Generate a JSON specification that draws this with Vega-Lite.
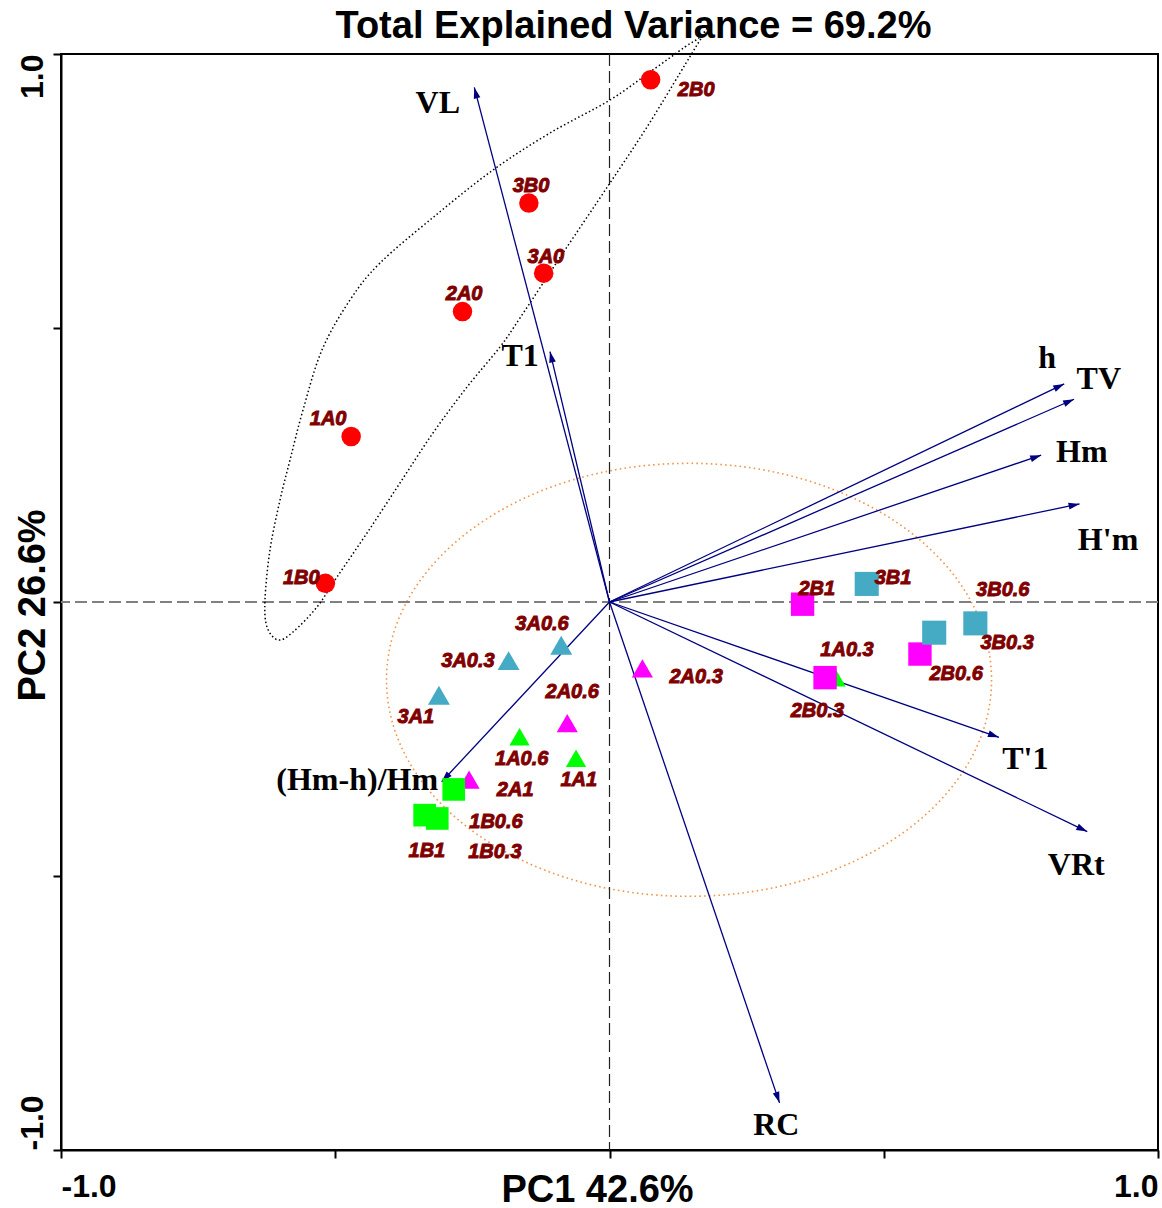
{
  "$schema": "https://vega.github.io/schema/vega-lite/v6.json",
  "width": 1097,
  "height": 1096,
  "autosize": {"type": "none"},
  "padding": {"left": 61, "top": 54, "right": 4, "bottom": 58},
  "background": "white",
  "config": {
    "view": {"stroke": "black", "strokeWidth": 2},
    "axis": {"grid": false}
  },
  "title": {
    "text": "Total Explained Variance = 69.2%",
    "font": "Liberation Sans",
    "fontSize": 38,
    "fontWeight": "bold",
    "color": "black",
    "anchor": "middle",
    "frame": "group",
    "dx": 24,
    "dy": 71,
    "offset": 16,
    "baseline": "alphabetic"
  },
  "datasets": {
    "scores": [
      {"id": "2B0", "g": "0", "x": 0.075, "y": 0.953, "lx": 0.158, "ly": 0.934},
      {"id": "3B0", "g": "0", "x": -0.147, "y": 0.728, "lx": -0.143, "ly": 0.759},
      {"id": "3A0", "g": "0", "x": -0.120, "y": 0.600, "lx": -0.116, "ly": 0.630},
      {"id": "2A0", "g": "0", "x": -0.268, "y": 0.530, "lx": -0.265, "ly": 0.562},
      {"id": "1A0", "g": "0", "x": -0.471, "y": 0.302, "lx": -0.513, "ly": 0.334},
      {"id": "1B0", "g": "0", "x": -0.518, "y": 0.034, "lx": -0.562, "ly": 0.044},
      {"id": "1A0.6", "g": "1A", "x": -0.164, "y": -0.246, "lx": -0.160, "ly": -0.287},
      {"id": "1A1", "g": "1A", "x": -0.061, "y": -0.285, "lx": -0.056, "ly": -0.325},
      {"id": "1A0.3", "g": "1A", "x": 0.412, "y": -0.138, "lx": 0.433, "ly": -0.088},
      {"id": "2A0.6", "g": "2A", "x": -0.077, "y": -0.221, "lx": -0.068, "ly": -0.164},
      {"id": "2A1", "g": "2A", "x": -0.256, "y": -0.324, "lx": -0.172, "ly": -0.343},
      {"id": "2A0.3", "g": "2A", "x": 0.060, "y": -0.121, "lx": 0.158, "ly": -0.137},
      {"id": "3A0.6", "g": "3A", "x": -0.088, "y": -0.079, "lx": -0.123, "ly": -0.040},
      {"id": "3A0.3", "g": "3A", "x": -0.184, "y": -0.107, "lx": -0.258, "ly": -0.108},
      {"id": "3A1", "g": "3A", "x": -0.311, "y": -0.170, "lx": -0.353, "ly": -0.210},
      {"id": "1B0.6", "g": "1B", "x": -0.284, "y": -0.342, "lx": -0.207, "ly": -0.402},
      {"id": "1B1", "g": "1B", "x": -0.337, "y": -0.389, "lx": -0.333, "ly": -0.454},
      {"id": "1B0.3", "g": "1B", "x": -0.314, "y": -0.395, "lx": -0.209, "ly": -0.456},
      {"id": "2B1", "g": "2B", "x": 0.352, "y": -0.004, "lx": 0.378, "ly": 0.024},
      {"id": "2B0.3", "g": "2B", "x": 0.393, "y": -0.138, "lx": 0.379, "ly": -0.199},
      {"id": "2B0.6", "g": "2B", "x": 0.566, "y": -0.095, "lx": 0.632, "ly": -0.131},
      {"id": "3B1", "g": "3B", "x": 0.469, "y": 0.033, "lx": 0.517, "ly": 0.044},
      {"id": "3B0.6", "g": "3B", "x": 0.592, "y": -0.056, "lx": 0.717, "ly": 0.022},
      {"id": "3B0.3", "g": "3B", "x": 0.667, "y": -0.039, "lx": 0.725, "ly": -0.075}
    ],
    "loadings": [
      {"v": "VL", "x": -0.2465, "y": 0.939, "lx": -0.313, "ly": 0.911},
      {"v": "T1", "x": -0.1085, "y": 0.457, "lx": -0.163, "ly": 0.449},
      {"v": "h", "x": 0.829, "y": 0.398, "lx": 0.798, "ly": 0.445},
      {"v": "TV", "x": 0.847, "y": 0.370, "lx": 0.892, "ly": 0.407},
      {"v": "Hm", "x": 0.787, "y": 0.268, "lx": 0.861, "ly": 0.274},
      {"v": "H'm", "x": 0.857, "y": 0.179, "lx": 0.909, "ly": 0.113},
      {"v": "T'1", "x": 0.710, "y": -0.247, "lx": 0.758, "ly": -0.287},
      {"v": "VRt", "x": 0.871, "y": -0.419, "lx": 0.851, "ly": -0.480},
      {"v": "RC", "x": 0.310, "y": -0.914, "lx": 0.304, "ly": -0.954},
      {"v": "(Hm-h)/Hm", "x": -0.306, "y": -0.328, "lx": -0.460, "ly": -0.325}
    ],
    "hull": [
      {"i": 0, "x": -0.6043, "y": -0.0693},
      {"i": 1, "x": -0.6244, "y": -0.0456},
      {"i": 2, "x": -0.6281, "y": 0.0036},
      {"i": 3, "x": -0.6190, "y": 0.0949},
      {"i": 4, "x": -0.6007, "y": 0.1861},
      {"i": 5, "x": -0.5825, "y": 0.2591},
      {"i": 6, "x": -0.5588, "y": 0.3504},
      {"i": 7, "x": -0.5242, "y": 0.4599},
      {"i": 8, "x": -0.4731, "y": 0.5511},
      {"i": 9, "x": -0.4184, "y": 0.6186},
      {"i": 10, "x": -0.3163, "y": 0.7062},
      {"i": 11, "x": -0.2124, "y": 0.7883},
      {"i": 12, "x": -0.1085, "y": 0.8558},
      {"i": 13, "x": 0.0009, "y": 0.9161},
      {"i": 14, "x": 0.0738, "y": 0.9672},
      {"i": 15, "x": 0.1376, "y": 1.0128},
      {"i": 16, "x": 0.1650, "y": 1.0310},
      {"i": 17, "x": 0.1832, "y": 1.0547},
      {"i": 18, "x": 0.1595, "y": 1.0164},
      {"i": 19, "x": 0.1285, "y": 0.9653},
      {"i": 20, "x": 0.0684, "y": 0.8668},
      {"i": 21, "x": 0.0009, "y": 0.7646},
      {"i": 22, "x": -0.0848, "y": 0.6369},
      {"i": 23, "x": -0.1632, "y": 0.5182},
      {"i": 24, "x": -0.1997, "y": 0.4653},
      {"i": 25, "x": -0.2598, "y": 0.3923},
      {"i": 26, "x": -0.3218, "y": 0.3084},
      {"i": 27, "x": -0.3820, "y": 0.2172},
      {"i": 28, "x": -0.4421, "y": 0.1259},
      {"i": 29, "x": -0.4968, "y": 0.0456},
      {"i": 30, "x": -0.5333, "y": -0.0091},
      {"i": 31, "x": -0.5770, "y": -0.0547}
    ],
    "ellipse": [{"x": 0.145, "y": -0.142}],
    "zero": [{"v": 0}]
  },
  "layer": [
    {
      "data": {"name": "ellipse"},
      "mark": {
        "type": "point",
        "shape": "M-1,0C-1,-0.3953,-0.5523,-0.7157,0,-0.7157C0.5523,-0.7157,1,-0.3953,1,0C1,0.3953,0.5523,0.7157,0,0.7157C-0.5523,0.7157,-1,0.3953,-1,0Z",
        "size": 366025,
        "filled": false,
        "color": "#f4934a",
        "opacity": 1,
        "strokeWidth": 1.6,
        "strokeDash": [1.6, 3.2]
      },
      "encoding": {
        "x": {
          "field": "x", "type": "quantitative",
          "scale": {"domain": [-1, 1], "nice": false, "zero": false},
          "axis": {
            "title": "PC1 42.6%",
            "values": [-1, -0.5, 0, 0.5, 1],
            "labelExpr": "datum.value == -1 ? '-1.0' : (datum.value == 1 ? '1.0' : '')",
            "labelFlush": true,
            "labelOverlap": false,
            "labelFont": "Liberation Sans",
            "labelFontSize": 32,
            "labelFontWeight": "bold",
            "labelColor": "black",
            "labelBaseline": "alphabetic",
            "labelPadding": 38,
            "tickSize": 8,
            "tickWidth": 2,
            "tickColor": "black",
            "domainColor": "black",
            "domainWidth": 2,
            "grid": false,
            "titleFont": "Liberation Sans",
            "titleFontSize": 38,
            "titleFontWeight": "bold",
            "titleColor": "black",
            "titleX": 536,
            "titleY": 51,
            "titleBaseline": "alphabetic",
            "titleAlign": "center"
          }
        },
        "y": {
          "field": "y", "type": "quantitative",
          "scale": {"domain": [-1, 1], "nice": false, "zero": false},
          "axis": {
            "title": "PC2 26.6%",
            "values": [-1, -0.5, 0, 0.5, 1],
            "labelExpr": "datum.value == -1 ? '-1.0' : (datum.value == 1 ? '1.0' : '')",
            "labelOverlap": false,
            "labelAngle": -90,
            "labelAlign": {"condition": {"test": "datum.value == 1", "value": "right"}, "value": "left"},
            "labelBaseline": "alphabetic",
            "labelPadding": 11,
            "labelFont": "Liberation Sans",
            "labelFontSize": 32,
            "labelFontWeight": "bold",
            "labelColor": "black",
            "tickSize": 8,
            "tickWidth": 2,
            "tickColor": "black",
            "domainColor": "black",
            "domainWidth": 2,
            "grid": false,
            "titleFont": "Liberation Sans",
            "titleFontSize": 38,
            "titleFontWeight": "bold",
            "titleColor": "black",
            "titleAngle": -90,
            "titleX": -17,
            "titleY": 551,
            "titleBaseline": "alphabetic",
            "titleAlign": "center"
          }
        }
      }
    },
    {
      "data": {"name": "zero"},
      "mark": {"type": "rule", "color": "#808080", "strokeWidth": 2, "strokeDash": [12, 5]},
      "encoding": {"y": {"field": "v", "type": "quantitative"}}
    },
    {
      "data": {"name": "zero"},
      "mark": {"type": "rule", "color": "#222222", "strokeWidth": 1.2, "strokeDash": [12, 5]},
      "encoding": {"x": {"field": "v", "type": "quantitative"}}
    },
    {
      "data": {"name": "hull"},
      "mark": {"type": "line", "interpolate": "cardinal-closed", "color": "black", "strokeWidth": 1.5, "strokeDash": [1.5, 2.5]},
      "encoding": {
        "x": {"field": "x", "type": "quantitative"},
        "y": {"field": "y", "type": "quantitative"},
        "order": {"field": "i", "type": "quantitative"}
      }
    },
    {
      "data": {"name": "loadings"},
      "mark": {"type": "rule", "color": "#000080", "strokeWidth": 1.3},
      "encoding": {
        "x": {"field": "x", "type": "quantitative"},
        "y": {"field": "y", "type": "quantitative"},
        "x2": {"datum": 0},
        "y2": {"datum": 0}
      }
    },
    {
      "data": {"name": "loadings"},
      "transform": [{"calculate": "atan2(datum.x, datum.y) * 180 / PI", "as": "ang"}],
      "mark": {"type": "point", "shape": "M0,0L-0.34,1.1L0.34,1.1Z", "size": 400, "filled": true, "color": "#000080", "opacity": 1, "strokeWidth": 0},
      "encoding": {
        "x": {"field": "x", "type": "quantitative"},
        "y": {"field": "y", "type": "quantitative"},
        "angle": {"field": "ang", "type": "quantitative", "scale": null}
      }
    },
    {
      "data": {"name": "loadings"},
      "mark": {"type": "text", "font": "Liberation Serif", "fontWeight": "bold", "fontSize": 32, "color": "black", "align": "center", "baseline": "middle"},
      "encoding": {
        "x": {"field": "lx", "type": "quantitative"},
        "y": {"field": "ly", "type": "quantitative"},
        "text": {"field": "v"}
      }
    },
    {
      "data": {"name": "scores"},
      "mark": {"type": "point", "filled": true, "opacity": 1, "strokeWidth": 0},
      "encoding": {
        "x": {"field": "x", "type": "quantitative"},
        "y": {"field": "y", "type": "quantitative"},
        "color": {
          "field": "g", "type": "nominal", "legend": null,
          "scale": {"domain": ["0", "1A", "2A", "3A", "1B", "2B", "3B"], "range": ["#ff0000", "#00ff00", "#ff00ff", "#45aac4", "#00ff00", "#ff00ff", "#45aac4"]}
        },
        "shape": {
          "field": "g", "type": "nominal", "legend": null,
          "scale": {"domain": ["0", "1A", "2A", "3A", "1B", "2B", "3B"], "range": ["circle", "triangle-up", "triangle-up", "triangle-up", "square", "square", "square"]}
        },
        "size": {
          "field": "g", "type": "nominal", "legend": null,
          "scale": {"domain": ["0", "1A", "2A", "3A", "1B", "2B", "3B"], "range": [380, 580, 290, 600, 360, 385, 370]}
        }
      }
    },
    {
      "data": {"name": "scores"},
      "mark": {"type": "text", "font": "Liberation Sans", "fontWeight": "bold", "fontStyle": "italic", "fontSize": 20, "color": "#800000", "stroke": "#800000", "strokeWidth": 0.9, "align": "center", "baseline": "middle"},
      "encoding": {
        "x": {"field": "lx", "type": "quantitative"},
        "y": {"field": "ly", "type": "quantitative"},
        "text": {"field": "id"}
      }
    }
  ]
}
